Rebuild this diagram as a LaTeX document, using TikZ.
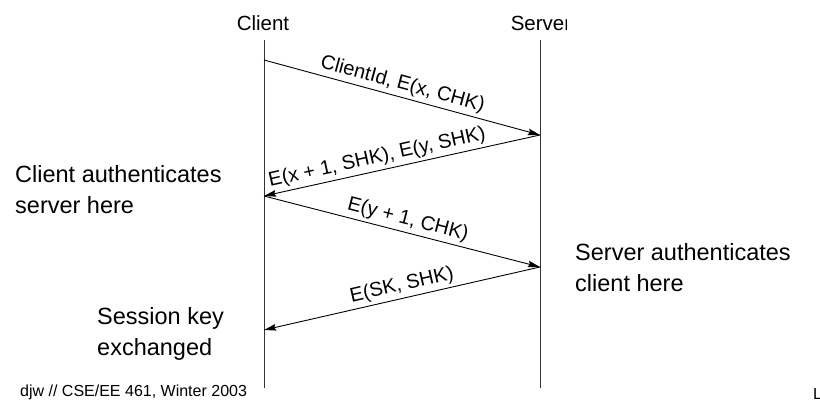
\documentclass[tikz,border=0pt]{standalone}
\usepackage{fontspec}
\setmainfont{Liberation Sans}
\usetikzlibrary{arrows.meta}

\tikzset{
  lifeline/.style={draw=black!80, line width=1pt},
  msg/.style={draw=black, line width=0.9pt,
    -{Stealth[length=12pt,width=6.5pt,inset=1.5pt]}},
  msglabel/.style={font=\fontsize{20}{24}\selectfont, sloped, above, inner sep=3pt},
  party/.style={font=\fontsize{20.5}{24}\selectfont, anchor=base, inner sep=0pt},
  note/.style={font=\fontsize{23.5}{31}\selectfont, align=left, anchor=north west, inner sep=0pt},
  footer/.style={font=\fontsize{16}{19}\selectfont, anchor=base west, inner sep=0pt}
}

\begin{document}
\begin{tikzpicture}[x=1pt,y=-1pt]
  \useasboundingbox (0,0) rectangle (820,400);

  % participants
  \node[party] (client) at (263,30) {Client};
  \begin{scope}
    \clip (490,0) rectangle (566,40);
    \node[party] (server) at (541,30) {Server};
  \end{scope}

  % lifelines
  \coordinate (ctop) at (264,40);
  \coordinate (cbot) at (264,388);
  \coordinate (stop) at (540,40);
  \coordinate (sbot) at (540,388);
  \draw[lifeline] (ctop) -- (cbot);
  \draw[lifeline] (stop) -- (sbot);

  % message endpoints on the lifelines
  \coordinate (c1) at (264,60);
  \coordinate (s1) at (540,135);
  \coordinate (c2) at (264,196);
  \coordinate (s2) at (540,267);
  \coordinate (c3) at (264,330);

  % messages
  \draw[msg] (c1) -- node[msglabel, pos=0.49] {ClientId, E(x, CHK)} (s1);
  \draw[msg] (s1) -- node[msglabel, pos=0.58] {E(x + 1, SHK), E(y, SHK)} (c2);
  \draw[msg] (c2) -- node[msglabel, pos=0.51] {E(y + 1, CHK)} (s2);
  \draw[msg] (s2) -- node[msglabel, pos=0.49] {E(SK, SHK)} (c3);

  % side notes
  \node[note] (cauth) at (15,165) {Client authenticates\\server here};
  \node[note] (sauth) at (575,243) {Server authenticates\\client here};
  \node[note] (skey) at (97,307) {Session key\\exchanged};

  % footer
  \node[footer] (foot) at (20,396) {djw // CSE/EE 461, Winter 2003};
  \node[footer] (page) at (813,399) {L};
\end{tikzpicture}
\end{document}
